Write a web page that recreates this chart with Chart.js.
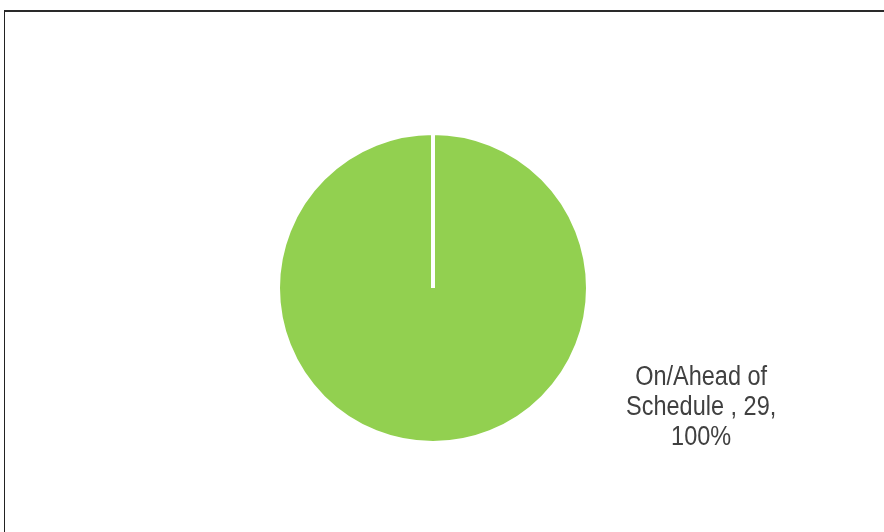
<!DOCTYPE html>
<html>
<head>
<meta charset="utf-8">
<script src="https://cdn.jsdelivr.net/npm/chart.js@4/dist/chart.umd.min.js"></script>
<style>
    html, body { margin: 0; padding: 0; background: #fff; overflow: hidden; }
    #wrap { position: relative; width: 884px; height: 532px; }
    #frame {
        position: absolute; left: 4px; top: 10px; width: 1000px; height: 600px;
        border-top: 2px solid #2a2a2a; border-left: 1px solid #222;
    }
    canvas { position: absolute; left: 0; top: 0; }
</style>
</head>
<body>
<div id="wrap">
    <div id="frame"></div>
    <canvas id="pie" width="884" height="532"></canvas>
</div>
<script>
const categories = ['On/Ahead of Schedule'];
const counts = [29];
const colors = ['#92D050'];

// narrow-looking text: no Arial Narrow here, so squeeze Liberation Sans
const SQUEEZE = 0.87;

// data label drawn beside the pie, wrapped like the original
const labelPlugin = {
    id: 'sliceLabel',
    afterDatasetsDraw(chart) {
        const ctx = chart.ctx;
        const meta = chart.getDatasetMeta(0);
        const total = counts.reduce((a, b) => a + b, 0);
        ctx.save();
        ctx.font = "27px 'Liberation Sans', Arial, sans-serif";
        ctx.fillStyle = '#404040';
        ctx.textAlign = 'center';
        ctx.textBaseline = 'alphabetic';
        meta.data.forEach((arc, i) => {
            const pct = Math.round(counts[i] / total * 100);
            const words = `${categories[i]} , ${counts[i]}, ${pct}%`.split(' ');
            const lines = [];
            let cur = '';
            for (const w of words) {
                const test = cur ? cur + ' ' + w : w;
                if (cur && ctx.measureText(test).width * SQUEEZE > 160) {
                    lines.push(cur);
                    cur = w;
                } else {
                    cur = test;
                }
            }
            if (cur) lines.push(cur);
            const cx = arc.x + arc.outerRadius * 1.73;
            let y = arc.y + arc.outerRadius * 0.625;
            lines.forEach(line => {
                ctx.save();
                ctx.translate(cx, y);
                ctx.scale(SQUEEZE, 1);
                ctx.fillText(line, 0, 0);
                ctx.restore();
                y += 30;
            });
        });
        ctx.restore();
    }
};

new Chart(document.getElementById('pie').getContext('2d'), {
    type: 'pie',
    data: {
        labels: categories,
        datasets: [{
            data: counts,
            backgroundColor: colors,
            borderColor: '#ffffff',
            borderWidth: 4
        }]
    },
    options: {
        responsive: false,
        animation: false,
        layout: { padding: { top: 131, bottom: 87, left: 276, right: 294 } },
        plugins: {
            legend: { display: false },
            tooltip: { enabled: false }
        }
    },
    plugins: [labelPlugin]
});
</script>
</body>
</html>
